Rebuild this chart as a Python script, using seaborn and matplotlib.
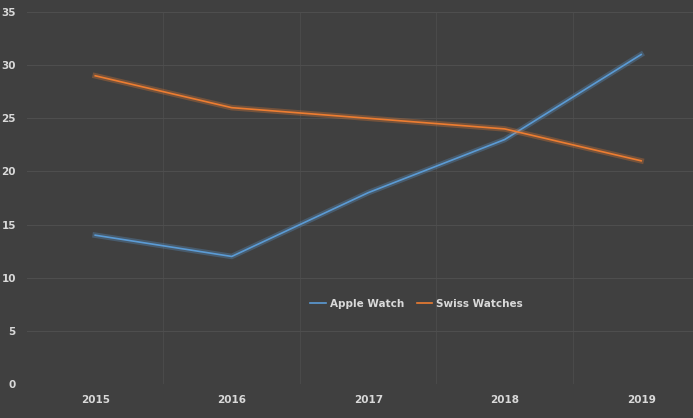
import matplotlib
matplotlib.use("Agg")
import matplotlib.pyplot as plt
import matplotlib.patheffects as pe
import seaborn as sns
import pandas as pd

years = ["2015", "2016", "2017", "2018", "2019"]
apple = [14, 12, 18, 23, 31]
swiss = [29, 26, 25, 24, 21]

df = pd.DataFrame({"x": list(range(len(years))) * 2,
                   "v": apple + swiss,
                   "s": ["Apple Watch"] * 5 + ["Swiss Watches"] * 5})

bg = "#404040"
fig = plt.figure(figsize=(6.93, 4.18), dpi=100, facecolor=bg)
ax = fig.add_axes([27/693, 34/418, 1 - 27/693, (384-12)/418])
ax.set_facecolor(bg)
pal = {"Apple Watch": "#5b9bd5", "Swiss Watches": "#ed7d31"}
sns.lineplot(data=df, x="x", y="v", hue="s", palette=pal, ax=ax, linewidth=1.2)
for ln in ax.lines:
    ln.set_path_effects([pe.Stroke(linewidth=4, foreground=ln.get_color(), alpha=0.3), pe.Normal()])
ax.set_xlim(-0.5, 4.38)
ax.set_ylim(0, 35)
ax.set_yticks(range(0, 36, 5))
ax.set_xticks(range(5))
ax.set_xticklabels(years)
ax.set_xticks([0.5, 1.5, 2.5, 3.5], minor=True)
ax.grid(False)
ax.yaxis.grid(True, color="#4e4e4e", linewidth=0.8)
ax.xaxis.grid(True, which="minor", color="#4a4a4a", linewidth=0.8)
ax.tick_params(which="both", length=0, colors="#d9d9d9", labelsize=7.5)
for t in ax.get_xticklabels() + ax.get_yticklabels():
    t.set_fontweight("bold")
ax.tick_params(axis="y", pad=8)
ax.tick_params(axis="x", pad=8)
for s in ax.spines.values():
    s.set_visible(False)
ax.set_xlabel("")
ax.set_ylabel("")
leg = ax.legend(loc="center", bbox_to_anchor=(0.585, 0.215), ncol=2, frameon=False,
                fontsize=7.5, handlelength=1.5, columnspacing=1.2, handletextpad=0.4)
for h in leg.legend_handles:
    h.set_linewidth(1.2)
    h.set_path_effects([])
for t in leg.get_texts():
    t.set_color("#d9d9d9")
    t.set_fontweight("bold")
fig.savefig("out.png", dpi=100, facecolor=bg)
